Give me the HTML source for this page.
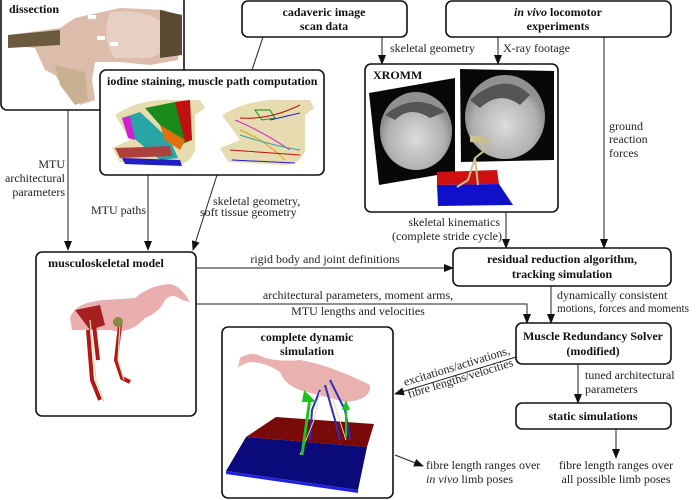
<!DOCTYPE html>
<html><head><meta charset="utf-8"><style>
html,body{margin:0;padding:0;background:#fff;}
svg{display:block;}
text{font-family:"Liberation Serif","DejaVu Serif",serif;}
.t{font-size:12px;fill:#222;}
.b{font-size:12px;font-weight:bold;fill:#111;}
.box{fill:#fff;stroke:#111;stroke-width:1.6;}
.ln{stroke:#222;stroke-width:1;fill:none;}
</style></head><body>
<svg width="700" height="500" viewBox="0 0 700 500">
<defs>
<marker id="a" markerWidth="10" markerHeight="10" refX="9" refY="5" orient="auto" markerUnits="userSpaceOnUse">
<path d="M0,1 L10,5 L0,9 z" fill="#111"/></marker>
<radialGradient id="xr" cx="0.5" cy="0.6" r="0.5"><stop offset="0" stop-color="#dcdcdc"/><stop offset="0.8" stop-color="#b0b0b0"/><stop offset="1" stop-color="#909090"/></radialGradient>
</defs>

<line class="ln" x1="68" y1="110" x2="68" y2="250" marker-end="url(#a)"/>
<line class="ln" x1="148" y1="175" x2="148" y2="250" marker-end="url(#a)"/>
<line class="ln" x1="263" y1="37" x2="252" y2="70"/>
<line class="ln" x1="217" y1="175" x2="193" y2="250" marker-end="url(#a)"/>
<line class="ln" x1="382" y1="37" x2="382" y2="64" marker-end="url(#a)"/>
<line class="ln" x1="498" y1="37" x2="498" y2="64" marker-end="url(#a)"/>
<line class="ln" x1="604" y1="37" x2="604" y2="248" marker-end="url(#a)"/>
<line class="ln" x1="506" y1="212" x2="506" y2="248" marker-end="url(#a)"/>
<line class="ln" x1="196" y1="268" x2="453" y2="268" marker-end="url(#a)"/>
<polyline class="ln" points="196,304 527,304 527,323" marker-end="url(#a)"/>
<line class="ln" x1="551" y1="286" x2="551" y2="323" marker-end="url(#a)"/>
<line class="ln" x1="516" y1="357" x2="395" y2="394" marker-end="url(#a)"/>
<line class="ln" x1="578" y1="364" x2="578" y2="403" marker-end="url(#a)"/>
<line class="ln" x1="616" y1="429" x2="616" y2="458" marker-end="url(#a)"/>
<line class="ln" x1="395" y1="455" x2="423" y2="466" marker-end="url(#a)"/>

<text class="t" text-anchor="end" x="65" y="168">MTU</text>
<text class="t" text-anchor="end" x="65" y="182">architectural</text>
<text class="t" text-anchor="end" x="65" y="196">parameters</text>
<text class="t" text-anchor="end" x="146" y="214">MTU paths</text>
<text class="t" x="213" y="205">skeletal geometry,</text>
<text class="t" x="200" y="216">soft tissue geometry</text>
<text class="t" x="390" y="52">skeletal geometry</text>
<text class="t" x="503" y="52">X-ray footage</text>
<text class="t" x="609" y="130">ground</text>
<text class="t" x="609" y="143">reaction</text>
<text class="t" x="609" y="157">forces</text>
<text class="t" text-anchor="end" x="500" y="226">skeletal kinematics</text>
<text class="t" text-anchor="end" x="502" y="240">(complete stride cycle)</text>
<text class="t" text-anchor="middle" x="325" y="263">rigid body and joint definitions</text>
<text class="t" text-anchor="middle" x="358" y="299">architectural parameters, moment arms,</text>
<text class="t" text-anchor="middle" x="358" y="315">MTU lengths and velocities</text>
<text class="t" x="557" y="299">dynamically consistent</text>
<text class="t" x="557" y="312" textLength="132" lengthAdjust="spacingAndGlyphs">motions, forces and moments</text>
<text class="t" transform="translate(405,386) rotate(-17)">excitations/activations,</text>
<text class="t" transform="translate(409,398) rotate(-17)">fibre lengths/velocities</text>
<text class="t" x="585" y="379">tuned architectural</text>
<text class="t" x="585" y="393">parameters</text>
<text class="t" text-anchor="middle" x="616" y="469">fibre length ranges over</text>
<text class="t" text-anchor="middle" x="616" y="483">all possible limb poses</text>
<text class="t" x="426" y="469">fibre length ranges over</text>
<text class="t" x="426" y="483"><tspan font-style="italic">in vivo</tspan> limb poses</text>

<rect class="box" x="1" y="-6" width="183" height="116" rx="6"/>
<path d="M8,35 L60,28 L75,18 L120,8 L165,10 L180,25 L178,60 L150,65 L120,62 L95,62 L92,80 L95,100 L80,105 L70,88 L60,82 L55,75 L45,70 L35,48 L8,45 z" fill="#dcbcaa"/>
<path d="M110,12 Q150,8 168,28 Q172,50 150,58 L115,58 Q100,40 110,12 z" fill="#e8cfc4"/>
<path d="M8,35 L60,30 L60,45 L8,48 z" fill="#6b5a3e"/>
<path d="M160,10 L182,15 L182,55 L160,58 z" fill="#5a4a32"/>
<path d="M55,65 L85,72 L88,100 L75,105 L60,85 z" fill="#c8b092"/>
<rect x="88" y="15" width="8" height="4" fill="#fff"/><rect x="97" y="36" width="8" height="4" fill="#fff"/><rect x="110" y="42" width="8" height="4" fill="#fff"/>
<text class="b" x="9" y="13">dissection</text>

<rect class="box" x="242" y="1" width="165" height="36" rx="6"/>
<text class="b" text-anchor="middle" x="324" y="16">cadaveric image</text>
<text class="b" text-anchor="middle" x="324" y="30">scan data</text>

<rect class="box" x="446" y="1" width="225" height="36" rx="6"/>
<text class="b" text-anchor="middle" x="558" y="16"><tspan font-style="italic">in vivo</tspan> locomotor</text>
<text class="b" text-anchor="middle" x="558" y="30">experiments</text>

<rect class="box" x="100" y="70" width="224" height="105" rx="6"/>
<text class="b" x="107" y="85">iodine staining, muscle path computation</text>
<path d="M115,115 Q140,98 175,100 L200,100 L205,108 L195,115 L195,150 Q190,165 175,165 L120,162 L112,148 L130,140 z" fill="#e6dcb0"/>
<path d="M145,108 L175,102 L190,110 L192,140 L180,145 L160,125 z" fill="#1a8a1a"/>
<path d="M175,102 L190,100 L192,140 L185,142 z" fill="#c01010"/>
<path d="M122,118 L140,112 L170,140 L178,158 L160,160 L130,135 z" fill="#2aa5a5"/>
<path d="M122,118 L130,116 L135,140 L128,138 z" fill="#d020d0"/>
<path d="M160,125 L185,140 L180,150 L165,140 z" fill="#e07010"/>
<path d="M115,148 L170,146 L172,156 L120,158 z" fill="#b04040"/>
<path d="M122,158 L180,160 L182,166 L125,164 z" fill="#2020c0"/>
<path d="M222,115 Q250,98 285,100 L310,100 L314,108 L305,115 L305,150 Q300,165 285,165 L228,162 L220,148 L240,140 z" fill="#e6dcb0"/>
<g fill="none" stroke-width="1">
<path d="M235,120 Q260,130 290,150" stroke="#d020d0"/>
<path d="M240,118 Q270,120 300,105" stroke="#c01010"/>
<path d="M255,110 L270,110 L275,118 L262,120 z" stroke="#1a8a1a"/>
<path d="M270,120 L300,113" stroke="#2020c0"/>
<path d="M240,130 Q265,140 285,160" stroke="#e0a010"/>
<path d="M230,150 L300,155" stroke="#c01010"/>
<path d="M240,135 Q270,145 300,150" stroke="#2aa5a5"/>
<path d="M232,160 L295,163" stroke="#2020c0"/>
</g>

<rect class="box" x="365" y="64" width="193" height="148" rx="6"/>
<polygon points="369,93 455,78 455,172 379,185" fill="#080808"/>
<ellipse cx="416" cy="131" rx="36" ry="39" fill="url(#xr)"/>
<path d="M385,115 Q415,90 445,112 L430,118 Q410,105 395,120 z" fill="#555"/>
<polygon points="460,69 554,71 554,160 461,162" fill="#080808"/>
<ellipse cx="505" cy="117" rx="40" ry="42" fill="url(#xr)"/>
<path d="M470,100 Q505,70 530,95 L520,105 Q500,90 480,108 z" fill="#555"/>
<polygon points="437,172 497,170 499,184 437,185" fill="#d01010"/>
<polygon points="437,185 499,184 513,205 438,206" fill="#1010c8"/>
<path d="M478,140 L485,150 L475,158 L478,185 M475,158 L468,180 L457,187" stroke="#c9c090" stroke-width="2" fill="none"/>
<path d="M470,135 L490,138 L488,144 L470,142 z" fill="#c9c090"/>
<text class="b" x="373" y="79">XROMM</text>

<rect class="box" x="36" y="252" width="160" height="164" rx="6"/>
<text class="b" text-anchor="middle" x="106" y="267">musculoskeletal model</text>
<path d="M70,318 Q75,302 105,300 L135,298 Q150,285 170,284 Q180,285 190,302 L182,300 Q172,292 165,300 Q160,312 145,318 Q130,335 110,330 L72,330 z" fill="#e8a5a5" opacity="0.9"/>
<path d="M75,310 L100,305 L105,325 L90,330 z" fill="#a52020"/>
<path d="M88,330 L92,380 L100,400 M94,325 L98,360 M120,325 L116,360 L122,378 L130,382" stroke="#b01818" stroke-width="4" fill="none"/>
<path d="M90,320 L96,380 L104,402 M120,322 L118,360 L124,380" stroke="#e6dcb0" stroke-width="1.2" fill="none"/>
<circle cx="118" cy="322" r="5" fill="#8a8a40"/>

<rect class="box" x="453" y="248" width="218" height="38" rx="6"/>
<text class="b" text-anchor="middle" x="562" y="263">residual reduction algorithm,</text>
<text class="b" text-anchor="middle" x="562" y="278">tracking simulation</text>

<rect class="box" x="516" y="323" width="155" height="41" rx="6"/>
<text class="b" text-anchor="middle" x="593" y="340">Muscle Redundancy Solver</text>
<text class="b" text-anchor="middle" x="593" y="355">(modified)</text>

<rect class="box" x="516" y="403" width="155" height="26" rx="6"/>
<text class="b" text-anchor="middle" x="593" y="420">static simulations</text>

<rect class="box" x="222" y="327" width="171" height="171" rx="6"/>
<text class="b" text-anchor="middle" x="307" y="341">complete dynamic</text>
<text class="b" text-anchor="middle" x="307" y="355">simulation</text>
<polygon points="276,417 374,424 367,447 246,437" fill="#7a0a0a"/>
<polygon points="246,437 367,447 358,490 226,471" fill="#0a0a7a"/>
<polygon points="226,471 358,490 358,493 226,474" fill="#2020e0"/>
<path d="M240,358 Q252,350 265,358 Q280,362 300,360 Q330,365 370,385 Q372,400 345,402 Q318,395 300,390 Q285,385 280,372 Q265,362 250,362 Q240,365 238,368 z" fill="#e8a8a8" opacity="0.9"/>
<path d="M325,385 L335,420 L340,440 M330,380 L345,410 L350,440 M320,390 L312,410 L310,440" stroke="#2a30c0" stroke-width="2" fill="none"/>
<path d="M320,392 L314,420 L300,455 M328,385 L338,415 L346,440" stroke="#e6dcb0" stroke-width="1" fill="none"/>
<line x1="302" y1="455" x2="310" y2="398" stroke="#20c020" stroke-width="3"/>
<polygon points="304,390 316,402 302,402" fill="#20c020"/>
<line x1="346" y1="437" x2="346" y2="408" stroke="#20c020" stroke-width="2"/>
<polygon points="346,400 350,410 342,410" fill="#20c020"/>
</svg>
</body></html>
